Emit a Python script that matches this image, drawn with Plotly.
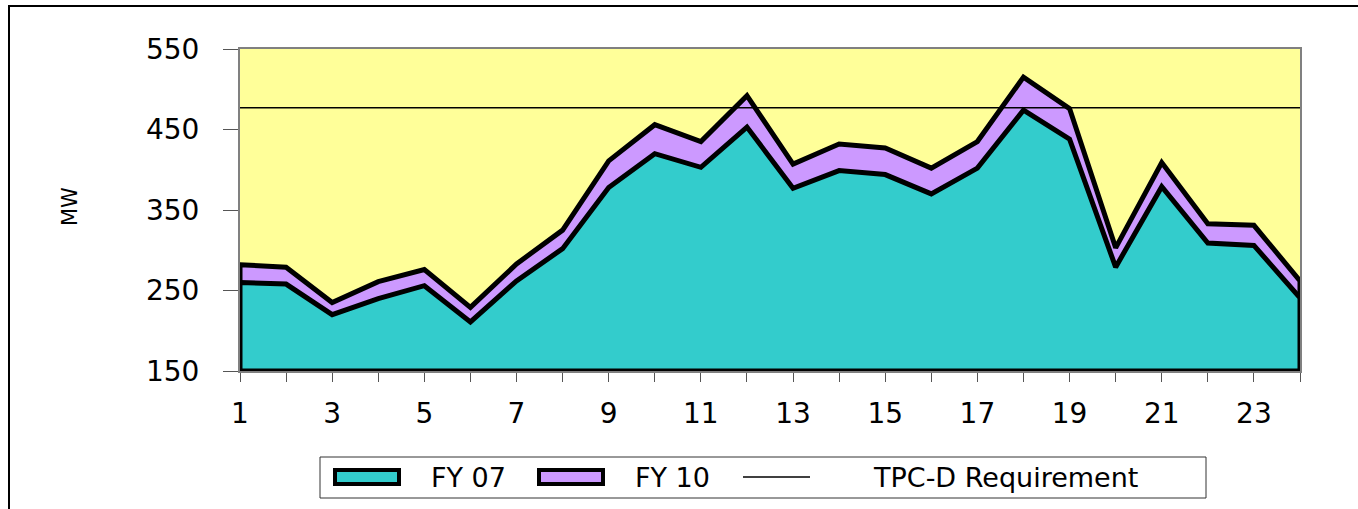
import plotly.graph_objects as go

hours = list(range(1, 25))
fy07 = [260, 258, 220, 240, 256, 211, 262, 302, 378, 420, 403, 453,
        377, 399, 394, 370, 402, 474, 438, 279, 379, 309, 306, 241]
fy10 = [282, 279, 235, 261, 276, 229, 283, 325, 411, 456, 435, 492,
        407, 432, 427, 402, 435, 515, 476, 303, 409, 333, 331, 262]
tpc_requirement = 477
y_range = [150, 550]
y_ticks = [150, 250, 350, 450, 550]
x_ticklabels = [1, 3, 5, 7, 9, 11, 13, 15, 17, 19, 21, 23]
series_names = ["FY 07", "FY 10", "TPC-D Requirement"]
colors = {"FY 07": "#33CCCC", "FY 10": "#CC99FF"}

FONT = "DejaVu Sans, Arial, sans-serif"
W, H = 1358, 509
L, R, T, B = 240, 58, 49, 138
PW, PH = W - L - R, H - T - B


def px_x(px):
    return (px - L) / PW


def px_y(py):
    return (H - B - py) / PH


def polygon(xs, ys, base):
    px = [xs[0]] + list(xs) + [xs[-1], xs[0]]
    py = [base] + list(ys) + [base, base]
    return px, py


fig = go.Figure()

x10, y10 = polygon(hours, fy10, y_range[0])
fig.add_trace(go.Scatter(
    x=x10, y=y10, mode="lines", fill="toself", fillcolor=colors["FY 10"],
    line=dict(color="black", width=5), name="FY 10", showlegend=False,
    hoverinfo="skip"))

x07, y07 = polygon(hours, fy07, y_range[0])
fig.add_trace(go.Scatter(
    x=x07, y=y07, mode="lines", fill="toself", fillcolor=colors["FY 07"],
    line=dict(color="black", width=5), name="FY 07", showlegend=False,
    hoverinfo="skip"))

fig.add_trace(go.Scatter(
    x=hours, y=[tpc_requirement] * len(hours), mode="lines",
    line=dict(color="black", width=1.5), name="TPC-D Requirement",
    showlegend=False, hoverinfo="skip"))

shapes = [
    # outer chart frame (top/left visible)
    dict(type="rect", xref="paper", yref="paper",
         x0=px_x(9), x1=px_x(W + 20), y0=px_y(H + 20), y1=px_y(6),
         line=dict(color="black", width=2), layer="below"),
    # legend box
    dict(type="rect", xref="paper", yref="paper",
         x0=px_x(320), x1=px_x(1206), y0=px_y(498), y1=px_y(457),
         line=dict(color="#333333", width=1), fillcolor="white"),
    # legend swatches
    dict(type="rect", xref="paper", yref="paper",
         x0=px_x(335), x1=px_x(399), y0=px_y(484), y1=px_y(470),
         line=dict(color="black", width=4), fillcolor=colors["FY 07"]),
    dict(type="rect", xref="paper", yref="paper",
         x0=px_x(539), x1=px_x(603), y0=px_y(484), y1=px_y(470),
         line=dict(color="black", width=4), fillcolor=colors["FY 10"]),
    dict(type="line", xref="paper", yref="paper",
         x0=px_x(743), x1=px_x(810), y0=px_y(477), y1=px_y(477),
         line=dict(color="black", width=1.5)),
]

legend_centers = [468, 672, 1005]
annotations = [
    dict(text=name, xref="paper", yref="paper", x=px_x(cx), y=px_y(477),
         xanchor="center", yanchor="middle", showarrow=False,
         font=dict(family=FONT, size=27, color="black"))
    for name, cx in zip(series_names, legend_centers)
]
annotations.append(dict(
    text="MW", xref="paper", yref="paper", x=px_x(70), y=px_y(207),
    xanchor="center", yanchor="middle", showarrow=False, textangle=-90,
    font=dict(family=FONT, size=21, color="black")))

fig.update_layout(
    width=W, height=H,
    margin=dict(l=L, r=R, t=T, b=B, autoexpand=False),
    paper_bgcolor="white",
    plot_bgcolor="#FFFF99",
    font=dict(family=FONT, color="black", size=26),
    showlegend=False,
    shapes=shapes,
    annotations=annotations,
)

fig.update_xaxes(
    range=[1, 24], tickmode="array", tickvals=hours,
    ticktext=[str(h) if h in x_ticklabels else "" for h in hours],
    ticks="outside", ticklen=9, tickcolor="#555555", tickwidth=1,
    ticklabelstandoff=7,
    showline=True, linecolor="#808080", linewidth=2, mirror=True,
    showgrid=False, zeroline=False,
    tickfont=dict(family=FONT, size=28, color="black"),
)
fig.update_yaxes(
    range=y_range, tickvals=y_ticks,
    ticks="outside", ticklen=15, tickcolor="#555555", tickwidth=1,
    ticklabelstandoff=18,
    showline=True, linecolor="#808080", linewidth=2, mirror=True,
    showgrid=False, zeroline=False,
    tickfont=dict(family=FONT, size=28, color="black"),
)

fig.write_html("out.html", config={"displayModeBar": False},
               post_script="document.body.style.margin='0';")
